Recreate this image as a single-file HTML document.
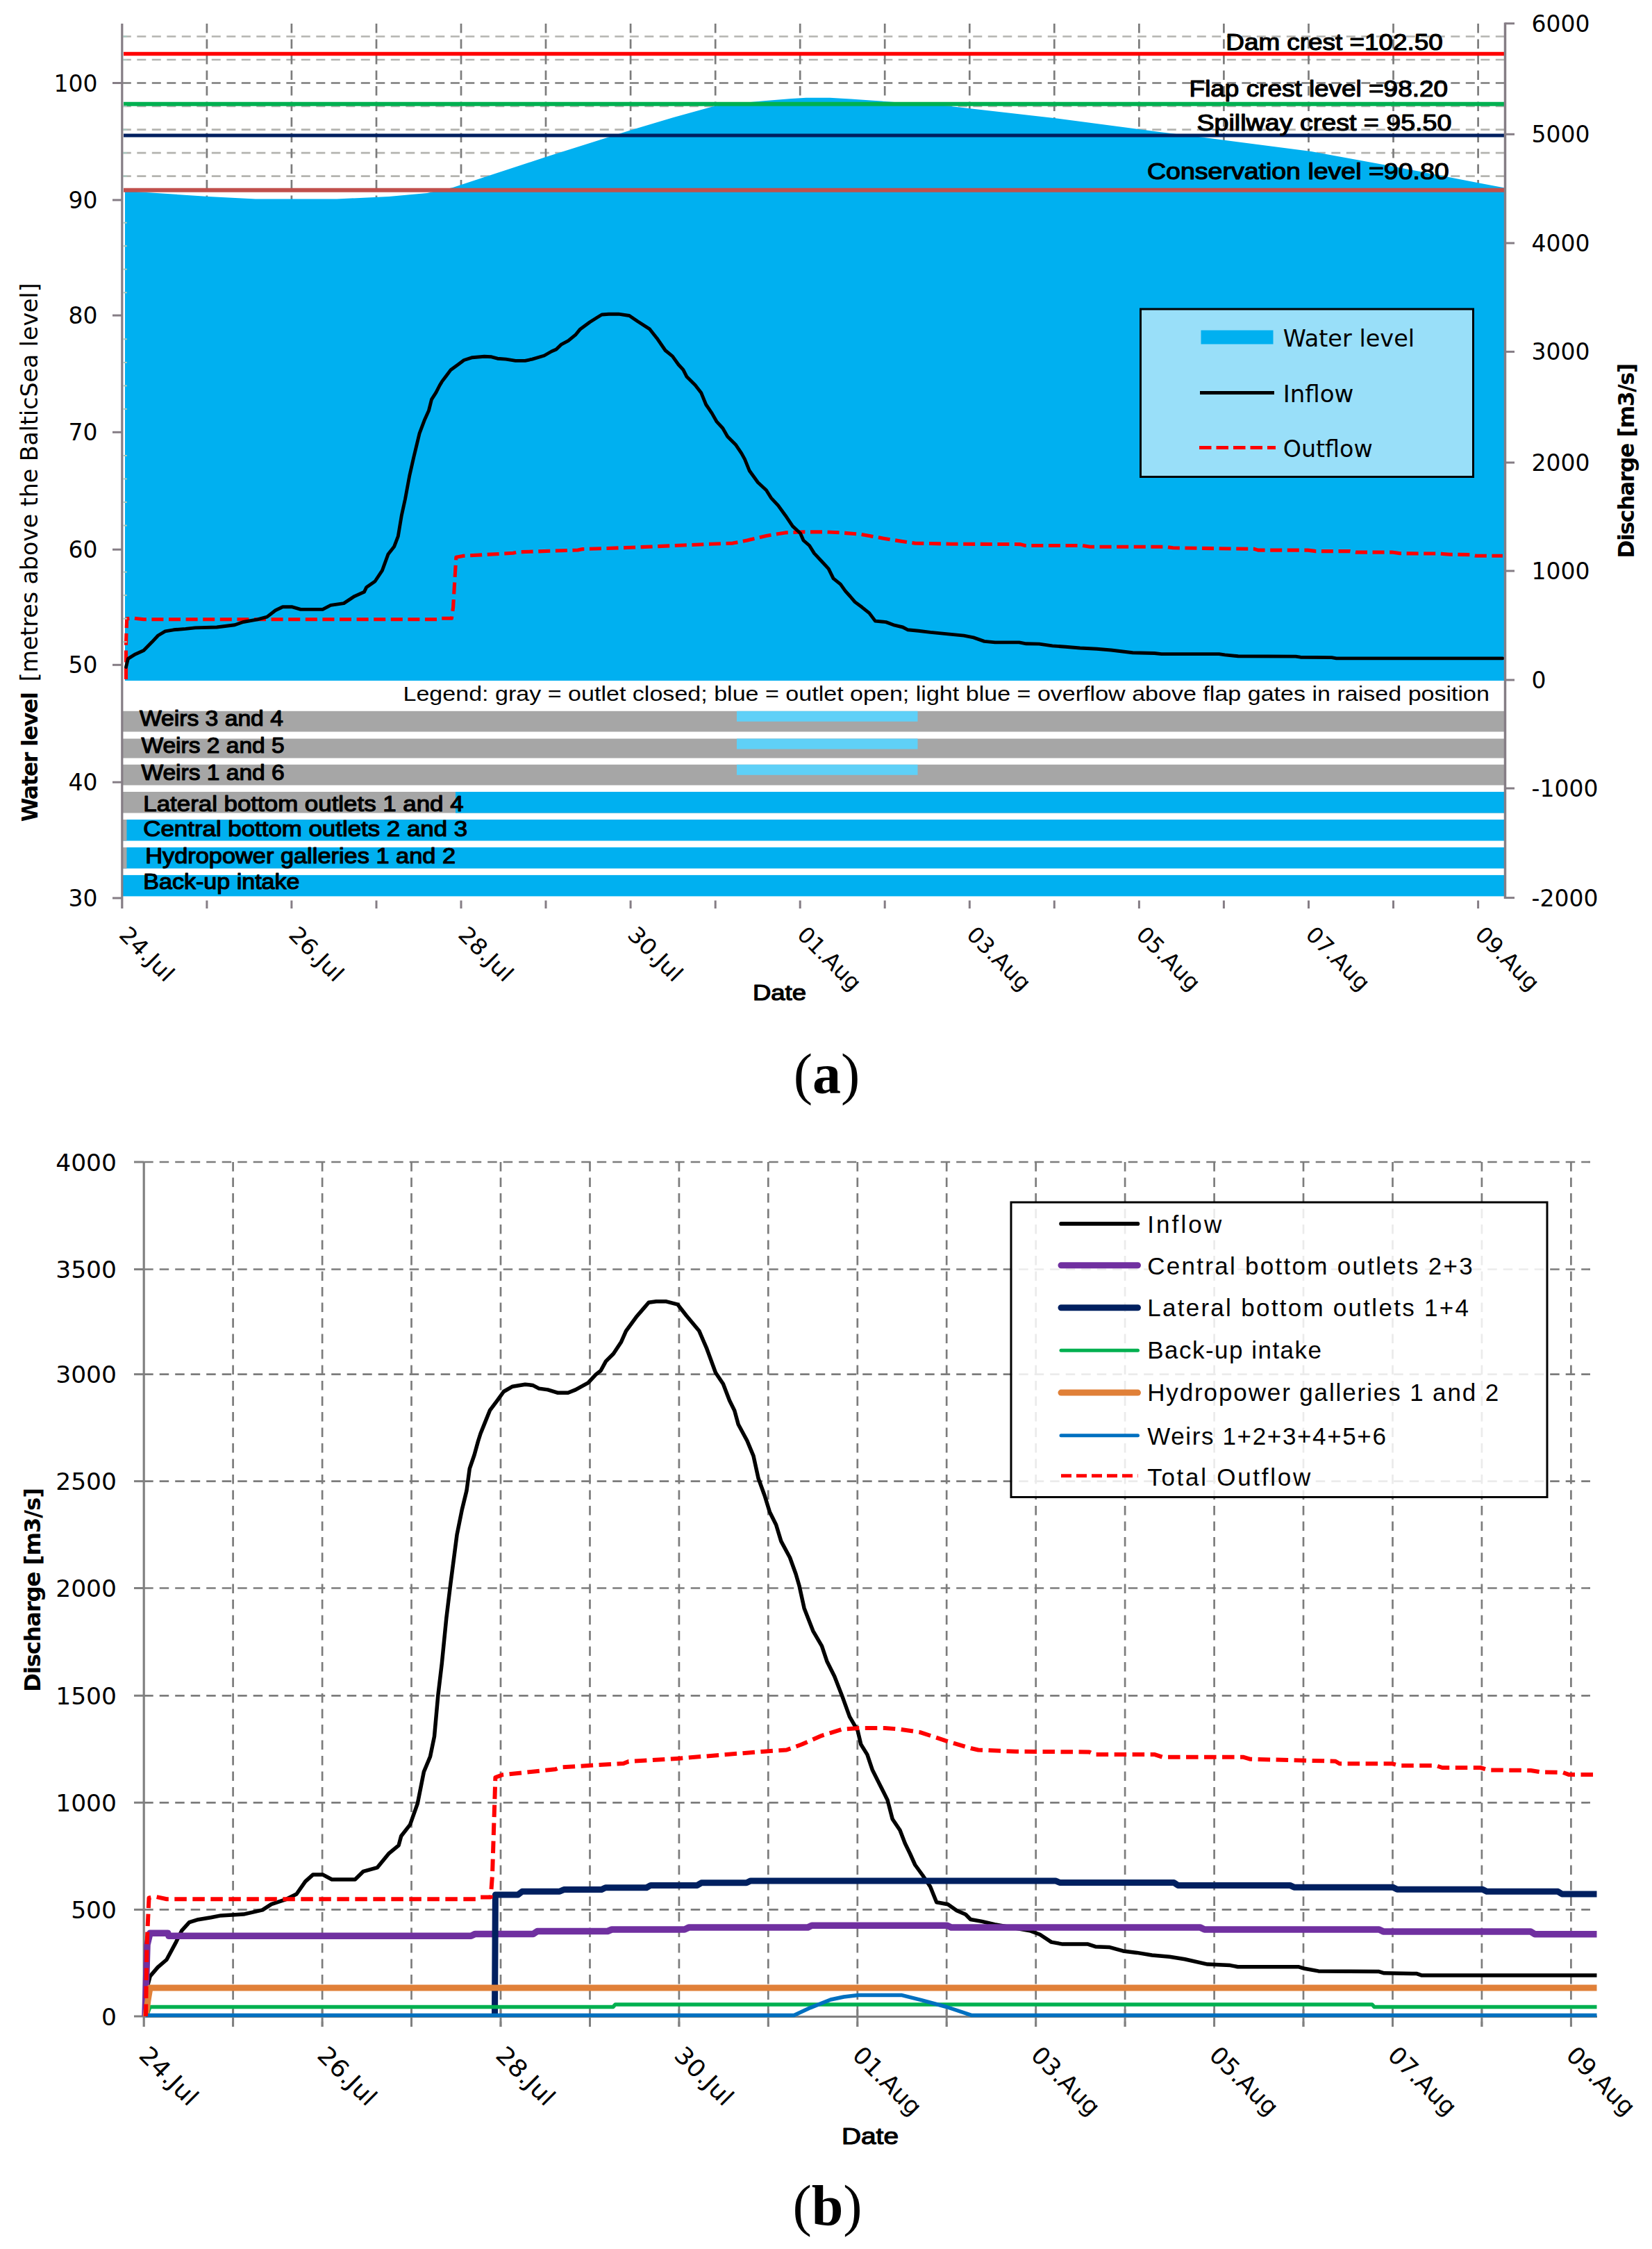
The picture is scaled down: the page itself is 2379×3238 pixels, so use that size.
<!DOCTYPE html>
<html lang="en"><head><meta charset="utf-8"><title>Figure</title>
<style>html,body{margin:0;padding:0;background:#fff}svg{display:block}</style></head>
<body>
<svg width="2379" height="3238" viewBox="0 0 2379 3238">
<rect width="2379" height="3238" fill="#fff"/>
<g id="chartA">
<line x1="175.8" y1="253.6" x2="2167.5" y2="253.6" stroke="#b4b4b0" stroke-width="2.7" stroke-dasharray="13 8.5"/>
<line x1="175.8" y1="220.1" x2="2167.5" y2="220.1" stroke="#b4b4b0" stroke-width="2.7" stroke-dasharray="13 8.5"/>
<line x1="175.8" y1="186.6" x2="2167.5" y2="186.6" stroke="#b4b4b0" stroke-width="2.7" stroke-dasharray="13 8.5"/>
<line x1="175.8" y1="153.0" x2="2167.5" y2="153.0" stroke="#b4b4b0" stroke-width="2.7" stroke-dasharray="13 8.5"/>
<line x1="175.8" y1="119.5" x2="2167.5" y2="119.5" stroke="#7c7c7c" stroke-width="2.7" stroke-dasharray="13 8.5"/>
<line x1="175.8" y1="86.0" x2="2167.5" y2="86.0" stroke="#b4b4b0" stroke-width="2.7" stroke-dasharray="13 8.5"/>
<line x1="175.8" y1="52.5" x2="2167.5" y2="52.5" stroke="#b4b4b0" stroke-width="2.7" stroke-dasharray="13 8.5"/>
<line x1="297.9" y1="34" x2="297.9" y2="300" stroke="#7c7c7c" stroke-width="2.7" stroke-dasharray="13.5 9"/>
<line x1="419.9" y1="34" x2="419.9" y2="300" stroke="#7c7c7c" stroke-width="2.7" stroke-dasharray="13.5 9"/>
<line x1="542.0" y1="34" x2="542.0" y2="300" stroke="#7c7c7c" stroke-width="2.7" stroke-dasharray="13.5 9"/>
<line x1="664.0" y1="34" x2="664.0" y2="300" stroke="#7c7c7c" stroke-width="2.7" stroke-dasharray="13.5 9"/>
<line x1="786.0" y1="34" x2="786.0" y2="300" stroke="#7c7c7c" stroke-width="2.7" stroke-dasharray="13.5 9"/>
<line x1="908.1" y1="34" x2="908.1" y2="300" stroke="#7c7c7c" stroke-width="2.7" stroke-dasharray="13.5 9"/>
<line x1="1030.2" y1="34" x2="1030.2" y2="300" stroke="#7c7c7c" stroke-width="2.7" stroke-dasharray="13.5 9"/>
<line x1="1152.2" y1="34" x2="1152.2" y2="300" stroke="#7c7c7c" stroke-width="2.7" stroke-dasharray="13.5 9"/>
<line x1="1274.2" y1="34" x2="1274.2" y2="300" stroke="#7c7c7c" stroke-width="2.7" stroke-dasharray="13.5 9"/>
<line x1="1396.3" y1="34" x2="1396.3" y2="300" stroke="#7c7c7c" stroke-width="2.7" stroke-dasharray="13.5 9"/>
<line x1="1518.3" y1="34" x2="1518.3" y2="300" stroke="#7c7c7c" stroke-width="2.7" stroke-dasharray="13.5 9"/>
<line x1="1640.4" y1="34" x2="1640.4" y2="300" stroke="#7c7c7c" stroke-width="2.7" stroke-dasharray="13.5 9"/>
<line x1="1762.4" y1="34" x2="1762.4" y2="300" stroke="#7c7c7c" stroke-width="2.7" stroke-dasharray="13.5 9"/>
<line x1="1884.5" y1="34" x2="1884.5" y2="300" stroke="#7c7c7c" stroke-width="2.7" stroke-dasharray="13.5 9"/>
<line x1="2006.5" y1="34" x2="2006.5" y2="300" stroke="#7c7c7c" stroke-width="2.7" stroke-dasharray="13.5 9"/>
<line x1="2128.6" y1="34" x2="2128.6" y2="300" stroke="#7c7c7c" stroke-width="2.7" stroke-dasharray="13.5 9"/>
<polygon points="180.0,980.0 180.0,275.0 226.0,278.0 300.0,283.0 368.0,286.5 485.0,286.5 560.0,283.0 615.0,278.0 652.0,270.0 786.0,226.0 908.0,187.5 970.0,169.0 1030.0,152.5 1070.0,148.0 1103.0,145.0 1140.0,142.0 1161.0,140.7 1195.0,140.7 1225.0,142.5 1261.0,145.0 1310.0,148.5 1362.0,152.3 1520.0,170.2 1670.0,190.0 1734.0,198.0 1888.0,218.0 2007.0,239.8 2130.0,263.4 2167.0,270.6 2167.0,980.0" fill="#00b0f0"/>
<line x1="178" y1="77.6" x2="2167.5" y2="77.6" stroke="#ff0000" stroke-width="5.5"/>
<line x1="178" y1="149.7" x2="2167.5" y2="149.7" stroke="#00b050" stroke-width="6"/>
<line x1="178" y1="195.0" x2="2167.5" y2="195.0" stroke="#002060" stroke-width="5"/>
<line x1="178" y1="273.7" x2="2167.5" y2="273.7" stroke="#c0504d" stroke-width="6"/>
<rect x="176" y="1023.8" width="1991.5" height="29.7" fill="#a6a6a6"/>
<rect x="176" y="1063.5" width="1991.5" height="28.0" fill="#a6a6a6"/>
<rect x="176" y="1100.8" width="1991.5" height="29.7" fill="#a6a6a6"/>
<rect x="176" y="1140" width="1991.5" height="30.5" fill="#a6a6a6"/>
<rect x="176" y="1180" width="1991.5" height="30.5" fill="#00b0f0"/>
<rect x="176" y="1220" width="1991.5" height="30.4" fill="#00b0f0"/>
<rect x="176" y="1259.9" width="1991.5" height="30.5" fill="#00b0f0"/>
<rect x="1061" y="1023.8" width="260.5" height="15" fill="#5fd0f7"/>
<rect x="1061" y="1063.5" width="260.5" height="15" fill="#5fd0f7"/>
<rect x="1061" y="1100.8" width="260.5" height="15" fill="#5fd0f7"/>
<rect x="656" y="1140" width="1511.5" height="30.5" fill="#00b0f0"/>
<rect x="176" y="1180" width="6.5" height="30.5" fill="#a6a6a6"/>
<rect x="176" y="1220" width="6.5" height="30.4" fill="#a6a6a6"/>
<polyline points="181.5,978.0 181.5,925.4 182.7,890.9 191.4,889.9 207.0,891.8 629.8,891.8 632.6,890.3 650.4,890.3 652.6,874.3 656.8,802.3 666.5,800.4 739.0,796.3 745.8,794.8 832.1,792.0 839.0,790.6 908.1,788.3 970.1,785.6 1024.1,783.2 1055.2,782.1 1075.9,778.0 1103.5,771.5 1131.1,766.9 1157.1,765.9 1189.8,765.9 1210.4,766.9 1238.1,769.1 1272.6,775.2 1307.2,780.8 1317.5,782.1 1369.2,783.2 1469.4,783.6 1476.2,785.5 1559.1,785.5 1569.4,787.3 1679.7,787.3 1689.2,788.8 1806.3,790.4 1811.8,792.1 1883.5,792.1 1894.5,793.6 1944.1,793.6 1952.3,795.1 2004.7,795.1 2015.6,796.8 2073.5,797.1 2087.3,798.3 2117.6,798.6 2125.8,800.3 2163.9,800.3" fill="none" stroke="#ff0000" stroke-width="5.1" stroke-dasharray="17 7.6" stroke-linejoin="round"/>
<polyline points="181.5,960.4 184.4,948.4 194.8,941.9 206.9,936.4 218.9,924.3 227.6,915.0 237.9,908.9 250.0,906.8 267.3,905.4 281.1,903.9 312.2,903.0 338.1,899.8 350.2,895.5 370.9,891.8 384.6,888.1 396.7,878.8 407.1,873.8 420.9,873.8 433.0,877.4 464.7,877.4 476.2,871.4 495.1,868.6 510.6,858.4 524.4,852.3 527.8,845.4 540.0,837.0 550.4,821.3 558.9,798.1 567.6,787.0 573.3,772.1 578.3,742.1 583.5,718.5 589.7,685.1 595.6,659.1 604.1,623.9 611.1,605.3 617.4,591.3 621.5,575.1 627.9,565.2 633.1,555.0 636.4,549.4 642.2,541.7 649.2,532.4 659.5,525.0 668.2,518.5 680.2,514.7 697.4,513.3 707.8,513.8 716.4,516.2 728.5,517.1 742.4,519.4 756.2,519.4 766.5,517.1 783.7,512.0 794.1,506.0 801.0,503.0 808.0,496.2 818.3,490.6 828.7,482.2 835.5,473.9 849.4,463.7 859.7,457.2 866.6,453.0 876.8,452.2 890.7,452.2 906.3,454.5 918.4,462.8 935.7,473.9 946.0,486.9 958.1,504.5 968.4,512.9 977.1,525.0 983.9,532.4 989.1,542.6 1001.2,554.6 1009.9,565.8 1016.7,582.5 1025.3,595.1 1032.2,607.2 1040.8,616.5 1047.7,628.5 1059.7,640.6 1067.8,652.6 1072.5,661.1 1079.3,677.8 1091.4,694.5 1103.5,705.7 1110.4,716.8 1120.7,727.9 1131.1,742.2 1141.5,757.6 1152.5,767.8 1157.0,778.0 1165.6,785.5 1172.5,796.6 1182.9,807.7 1193.2,818.8 1200.1,832.9 1210.4,841.1 1217.3,850.8 1224.2,858.5 1231.1,866.6 1241.4,874.3 1251.8,882.6 1260.4,894.1 1275.9,895.6 1288.1,900.2 1300.1,903.0 1307.0,906.7 1322.6,908.2 1339.9,910.4 1388.1,915.1 1401.9,917.9 1417.5,923.4 1433.0,924.9 1467.6,924.9 1477.8,926.8 1496.5,927.1 1515.5,929.9 1534.6,931.2 1555.3,933.0 1579.4,934.2 1600.1,936.0 1631.2,939.7 1662.3,940.5 1672.6,941.6 1755.5,941.6 1764.0,942.9 1783.0,944.7 1865.9,945.1 1872.8,946.2 1917.7,946.6 1924.5,947.9 2163.9,947.9" fill="none" stroke="#000" stroke-width="4.9" stroke-linejoin="round" stroke-linecap="round"/>
<line x1="175.8" y1="34" x2="175.8" y2="1308" stroke="#857d85" stroke-width="3.2"/>
<line x1="2167.5" y1="32.5" x2="2167.5" y2="1294" stroke="#857d85" stroke-width="3.5"/>
<line x1="162" y1="1293.0" x2="175.8" y2="1293.0" stroke="#857d85" stroke-width="3"/>
<text x="140.5" y="1305.0" font-family='"DejaVu Sans", "Liberation Sans", sans-serif' font-size="33" font-weight="normal" text-anchor="end" fill="#000" >30</text>
<line x1="162" y1="1126.2" x2="175.8" y2="1126.2" stroke="#857d85" stroke-width="3"/>
<text x="140.5" y="1138.2" font-family='"DejaVu Sans", "Liberation Sans", sans-serif' font-size="33" font-weight="normal" text-anchor="end" fill="#000" >40</text>
<line x1="162" y1="957.3" x2="175.8" y2="957.3" stroke="#857d85" stroke-width="3"/>
<text x="140.5" y="969.3" font-family='"DejaVu Sans", "Liberation Sans", sans-serif' font-size="33" font-weight="normal" text-anchor="end" fill="#000" >50</text>
<line x1="162" y1="791.2" x2="175.8" y2="791.2" stroke="#857d85" stroke-width="3"/>
<text x="140.5" y="803.2" font-family='"DejaVu Sans", "Liberation Sans", sans-serif' font-size="33" font-weight="normal" text-anchor="end" fill="#000" >60</text>
<line x1="162" y1="622.3" x2="175.8" y2="622.3" stroke="#857d85" stroke-width="3"/>
<text x="140.5" y="634.3" font-family='"DejaVu Sans", "Liberation Sans", sans-serif' font-size="33" font-weight="normal" text-anchor="end" fill="#000" >70</text>
<line x1="162" y1="454.1" x2="175.8" y2="454.1" stroke="#857d85" stroke-width="3"/>
<text x="140.5" y="466.1" font-family='"DejaVu Sans", "Liberation Sans", sans-serif' font-size="33" font-weight="normal" text-anchor="end" fill="#000" >80</text>
<line x1="162" y1="288.0" x2="175.8" y2="288.0" stroke="#857d85" stroke-width="3"/>
<text x="140.5" y="300.0" font-family='"DejaVu Sans", "Liberation Sans", sans-serif' font-size="33" font-weight="normal" text-anchor="end" fill="#000" >90</text>
<line x1="162" y1="119.5" x2="175.8" y2="119.5" stroke="#857d85" stroke-width="3"/>
<text x="140.5" y="131.5" font-family='"DejaVu Sans", "Liberation Sans", sans-serif' font-size="33" font-weight="normal" text-anchor="end" fill="#000" >100</text>
<line x1="177.3" y1="924.2" x2="182.8" y2="924.2" stroke="#a9c9c0" stroke-width="2"/>
<line x1="177.3" y1="890.7" x2="182.8" y2="890.7" stroke="#a9c9c0" stroke-width="2"/>
<line x1="177.3" y1="857.1" x2="182.8" y2="857.1" stroke="#a9c9c0" stroke-width="2"/>
<line x1="177.3" y1="823.6" x2="182.8" y2="823.6" stroke="#a9c9c0" stroke-width="2"/>
<line x1="177.3" y1="756.6" x2="182.8" y2="756.6" stroke="#a9c9c0" stroke-width="2"/>
<line x1="177.3" y1="723.0" x2="182.8" y2="723.0" stroke="#a9c9c0" stroke-width="2"/>
<line x1="177.3" y1="689.5" x2="182.8" y2="689.5" stroke="#a9c9c0" stroke-width="2"/>
<line x1="177.3" y1="656.0" x2="182.8" y2="656.0" stroke="#a9c9c0" stroke-width="2"/>
<line x1="177.3" y1="588.9" x2="182.8" y2="588.9" stroke="#a9c9c0" stroke-width="2"/>
<line x1="177.3" y1="555.4" x2="182.8" y2="555.4" stroke="#a9c9c0" stroke-width="2"/>
<line x1="177.3" y1="521.9" x2="182.8" y2="521.9" stroke="#a9c9c0" stroke-width="2"/>
<line x1="177.3" y1="488.3" x2="182.8" y2="488.3" stroke="#a9c9c0" stroke-width="2"/>
<line x1="177.3" y1="421.3" x2="182.8" y2="421.3" stroke="#a9c9c0" stroke-width="2"/>
<line x1="177.3" y1="387.7" x2="182.8" y2="387.7" stroke="#a9c9c0" stroke-width="2"/>
<line x1="177.3" y1="354.2" x2="182.8" y2="354.2" stroke="#a9c9c0" stroke-width="2"/>
<line x1="177.3" y1="320.7" x2="182.8" y2="320.7" stroke="#a9c9c0" stroke-width="2"/>
<line x1="177.3" y1="253.6" x2="182.8" y2="253.6" stroke="#a9c9c0" stroke-width="2"/>
<line x1="177.3" y1="220.1" x2="182.8" y2="220.1" stroke="#a9c9c0" stroke-width="2"/>
<line x1="177.3" y1="186.6" x2="182.8" y2="186.6" stroke="#a9c9c0" stroke-width="2"/>
<line x1="177.3" y1="153.0" x2="182.8" y2="153.0" stroke="#a9c9c0" stroke-width="2"/>
<line x1="177.3" y1="86.0" x2="182.8" y2="86.0" stroke="#a9c9c0" stroke-width="2"/>
<line x1="177.3" y1="52.5" x2="182.8" y2="52.5" stroke="#a9c9c0" stroke-width="2"/>
<line x1="2167.5" y1="1292.6" x2="2181" y2="1292.6" stroke="#857d85" stroke-width="3"/>
<text x="2205.5" y="1304.6" font-family='"DejaVu Sans", "Liberation Sans", sans-serif' font-size="33" font-weight="normal" text-anchor="start" fill="#000" >-2000</text>
<line x1="2167.5" y1="1135.0" x2="2181" y2="1135.0" stroke="#857d85" stroke-width="3"/>
<text x="2205.5" y="1147.0" font-family='"DejaVu Sans", "Liberation Sans", sans-serif' font-size="33" font-weight="normal" text-anchor="start" fill="#000" >-1000</text>
<line x1="2167.5" y1="979.0" x2="2181" y2="979.0" stroke="#857d85" stroke-width="3"/>
<text x="2205.5" y="991.0" font-family='"DejaVu Sans", "Liberation Sans", sans-serif' font-size="33" font-weight="normal" text-anchor="start" fill="#000" >0</text>
<line x1="2167.5" y1="822.0" x2="2181" y2="822.0" stroke="#857d85" stroke-width="3"/>
<text x="2205.5" y="834.0" font-family='"DejaVu Sans", "Liberation Sans", sans-serif' font-size="33" font-weight="normal" text-anchor="start" fill="#000" >1000</text>
<line x1="2167.5" y1="666.0" x2="2181" y2="666.0" stroke="#857d85" stroke-width="3"/>
<text x="2205.5" y="678.0" font-family='"DejaVu Sans", "Liberation Sans", sans-serif' font-size="33" font-weight="normal" text-anchor="start" fill="#000" >2000</text>
<line x1="2167.5" y1="506.4" x2="2181" y2="506.4" stroke="#857d85" stroke-width="3"/>
<text x="2205.5" y="518.4" font-family='"DejaVu Sans", "Liberation Sans", sans-serif' font-size="33" font-weight="normal" text-anchor="start" fill="#000" >3000</text>
<line x1="2167.5" y1="350.0" x2="2181" y2="350.0" stroke="#857d85" stroke-width="3"/>
<text x="2205.5" y="362.0" font-family='"DejaVu Sans", "Liberation Sans", sans-serif' font-size="33" font-weight="normal" text-anchor="start" fill="#000" >4000</text>
<line x1="2167.5" y1="193.3" x2="2181" y2="193.3" stroke="#857d85" stroke-width="3"/>
<text x="2205.5" y="205.3" font-family='"DejaVu Sans", "Liberation Sans", sans-serif' font-size="33" font-weight="normal" text-anchor="start" fill="#000" >5000</text>
<line x1="2167.5" y1="33.8" x2="2181" y2="33.8" stroke="#857d85" stroke-width="3"/>
<text x="2205.5" y="45.8" font-family='"DejaVu Sans", "Liberation Sans", sans-serif' font-size="33" font-weight="normal" text-anchor="start" fill="#000" >6000</text>
<line x1="297.9" y1="1296.5" x2="297.9" y2="1308" stroke="#857d85" stroke-width="3"/>
<line x1="419.9" y1="1296.5" x2="419.9" y2="1308" stroke="#857d85" stroke-width="3"/>
<line x1="542.0" y1="1296.5" x2="542.0" y2="1308" stroke="#857d85" stroke-width="3"/>
<line x1="664.0" y1="1296.5" x2="664.0" y2="1308" stroke="#857d85" stroke-width="3"/>
<line x1="786.0" y1="1296.5" x2="786.0" y2="1308" stroke="#857d85" stroke-width="3"/>
<line x1="908.1" y1="1296.5" x2="908.1" y2="1308" stroke="#857d85" stroke-width="3"/>
<line x1="1030.2" y1="1296.5" x2="1030.2" y2="1308" stroke="#857d85" stroke-width="3"/>
<line x1="1152.2" y1="1296.5" x2="1152.2" y2="1308" stroke="#857d85" stroke-width="3"/>
<line x1="1274.2" y1="1296.5" x2="1274.2" y2="1308" stroke="#857d85" stroke-width="3"/>
<line x1="1396.3" y1="1296.5" x2="1396.3" y2="1308" stroke="#857d85" stroke-width="3"/>
<line x1="1518.3" y1="1296.5" x2="1518.3" y2="1308" stroke="#857d85" stroke-width="3"/>
<line x1="1640.4" y1="1296.5" x2="1640.4" y2="1308" stroke="#857d85" stroke-width="3"/>
<line x1="1762.4" y1="1296.5" x2="1762.4" y2="1308" stroke="#857d85" stroke-width="3"/>
<line x1="1884.5" y1="1296.5" x2="1884.5" y2="1308" stroke="#857d85" stroke-width="3"/>
<line x1="2006.5" y1="1296.5" x2="2006.5" y2="1308" stroke="#857d85" stroke-width="3"/>
<line x1="2128.6" y1="1296.5" x2="2128.6" y2="1308" stroke="#857d85" stroke-width="3"/>
<text transform="translate(169.8,1347.5) rotate(45)" font-family='"DejaVu Sans", "Liberation Sans", sans-serif' font-size="32" fill="#000" textLength="96" lengthAdjust="spacingAndGlyphs">24.Jul</text>
<text transform="translate(413.9,1347.5) rotate(45)" font-family='"DejaVu Sans", "Liberation Sans", sans-serif' font-size="32" fill="#000" textLength="96" lengthAdjust="spacingAndGlyphs">26.Jul</text>
<text transform="translate(658.0,1347.5) rotate(45)" font-family='"DejaVu Sans", "Liberation Sans", sans-serif' font-size="32" fill="#000" textLength="96" lengthAdjust="spacingAndGlyphs">28.Jul</text>
<text transform="translate(902.1,1347.5) rotate(45)" font-family='"DejaVu Sans", "Liberation Sans", sans-serif' font-size="32" fill="#000" textLength="96" lengthAdjust="spacingAndGlyphs">30.Jul</text>
<text transform="translate(1146.2,1347.5) rotate(45)" font-family='"DejaVu Sans", "Liberation Sans", sans-serif' font-size="32" fill="#000" textLength="114.4" lengthAdjust="spacingAndGlyphs">01.Aug</text>
<text transform="translate(1390.3,1347.5) rotate(45)" font-family='"DejaVu Sans", "Liberation Sans", sans-serif' font-size="32" fill="#000" textLength="114.4" lengthAdjust="spacingAndGlyphs">03.Aug</text>
<text transform="translate(1634.4,1347.5) rotate(45)" font-family='"DejaVu Sans", "Liberation Sans", sans-serif' font-size="32" fill="#000" textLength="114.4" lengthAdjust="spacingAndGlyphs">05.Aug</text>
<text transform="translate(1878.5,1347.5) rotate(45)" font-family='"DejaVu Sans", "Liberation Sans", sans-serif' font-size="32" fill="#000" textLength="114.4" lengthAdjust="spacingAndGlyphs">07.Aug</text>
<text transform="translate(2122.6,1347.5) rotate(45)" font-family='"DejaVu Sans", "Liberation Sans", sans-serif' font-size="32" fill="#000" textLength="114.4" lengthAdjust="spacingAndGlyphs">09.Aug</text>
<text x="1765.3" y="71.6" font-family='"Liberation Sans", sans-serif' font-size="32.5" font-weight="normal" text-anchor="start" fill="#000" textLength="312.4" lengthAdjust="spacingAndGlyphs"  stroke="#000" stroke-width="1.2" stroke-linejoin="round">Dam crest =102.50</text>
<text x="1712.6" y="138.8" font-family='"Liberation Sans", sans-serif' font-size="32.5" font-weight="normal" text-anchor="start" fill="#000" textLength="372.4" lengthAdjust="spacingAndGlyphs"  stroke="#000" stroke-width="1.2" stroke-linejoin="round">Flap crest level =98.20</text>
<text x="1723.5" y="187.8" font-family='"Liberation Sans", sans-serif' font-size="32.5" font-weight="normal" text-anchor="start" fill="#000" textLength="366.9" lengthAdjust="spacingAndGlyphs"  stroke="#000" stroke-width="1.2" stroke-linejoin="round">Spillway crest = 95.50</text>
<text x="1652.0" y="258.0" font-family='"Liberation Sans", sans-serif' font-size="32.5" font-weight="normal" text-anchor="start" fill="#000" textLength="434.7" lengthAdjust="spacingAndGlyphs"  stroke="#000" stroke-width="1.2" stroke-linejoin="round">Conservation level =90.80</text>
<text x="200.9" y="1044.5" font-family='"Liberation Sans", sans-serif' font-size="31.5" font-weight="normal" text-anchor="start" fill="#000" textLength="207.0" lengthAdjust="spacingAndGlyphs"  stroke="#000" stroke-width="1.2" stroke-linejoin="round">Weirs 3 and 4</text>
<text x="203.4" y="1083.7" font-family='"Liberation Sans", sans-serif' font-size="31.5" font-weight="normal" text-anchor="start" fill="#000" textLength="206.3" lengthAdjust="spacingAndGlyphs"  stroke="#000" stroke-width="1.2" stroke-linejoin="round">Weirs 2 and 5</text>
<text x="203.4" y="1123.3" font-family='"Liberation Sans", sans-serif' font-size="31.5" font-weight="normal" text-anchor="start" fill="#000" textLength="206.3" lengthAdjust="spacingAndGlyphs"  stroke="#000" stroke-width="1.2" stroke-linejoin="round">Weirs 1 and 6</text>
<text x="206.3" y="1168.0" font-family='"Liberation Sans", sans-serif' font-size="31.5" font-weight="normal" text-anchor="start" fill="#000" textLength="461.3" lengthAdjust="spacingAndGlyphs"  stroke="#000" stroke-width="1.2" stroke-linejoin="round">Lateral bottom outlets 1 and 4</text>
<text x="206.3" y="1203.6" font-family='"Liberation Sans", sans-serif' font-size="31.5" font-weight="normal" text-anchor="start" fill="#000" textLength="466.8" lengthAdjust="spacingAndGlyphs"  stroke="#000" stroke-width="1.2" stroke-linejoin="round">Central bottom outlets 2 and 3</text>
<text x="209.2" y="1243.2" font-family='"Liberation Sans", sans-serif' font-size="31.5" font-weight="normal" text-anchor="start" fill="#000" textLength="446.8" lengthAdjust="spacingAndGlyphs"  stroke="#000" stroke-width="1.2" stroke-linejoin="round">Hydropower galleries 1 and 2</text>
<text x="206.3" y="1279.5" font-family='"Liberation Sans", sans-serif' font-size="31.5" font-weight="normal" text-anchor="start" fill="#000" textLength="225.2" lengthAdjust="spacingAndGlyphs"  stroke="#000" stroke-width="1.2" stroke-linejoin="round">Back-up intake</text>
<text x="580.5" y="1009.2" font-family='"Liberation Sans", sans-serif' font-size="30" font-weight="normal" text-anchor="start" fill="#000" textLength="1564.5" lengthAdjust="spacingAndGlyphs" >Legend: gray = outlet closed; blue = outlet open; light blue = overflow above flap gates in raised position</text>
<rect x="1642.5" y="445" width="479" height="241.5" fill="#99dff9" stroke="#000" stroke-width="3"/>
<rect x="1729.5" y="475.5" width="104" height="20" fill="#00b0f0"/>
<line x1="1728" y1="565.4" x2="1835" y2="565.4" stroke="#000" stroke-width="5"/>
<line x1="1727" y1="644.5" x2="1837" y2="644.5" stroke="#ff0000" stroke-width="5" stroke-dasharray="17.5 7"/>
<text x="1847.7" y="499.3" font-family='"DejaVu Sans", "Liberation Sans", sans-serif' font-size="33" font-weight="normal" text-anchor="start" fill="#000" textLength="189.4" lengthAdjust="spacingAndGlyphs" >Water level</text>
<text x="1847.7" y="578.5" font-family='"DejaVu Sans", "Liberation Sans", sans-serif' font-size="33" font-weight="normal" text-anchor="start" fill="#000" textLength="101.7" lengthAdjust="spacingAndGlyphs" >Inflow</text>
<text x="1847.7" y="657.6" font-family='"DejaVu Sans", "Liberation Sans", sans-serif' font-size="33" font-weight="normal" text-anchor="start" fill="#000" textLength="129.0" lengthAdjust="spacingAndGlyphs" >Outflow</text>
<g transform="translate(53.9,1183.3) rotate(-90)"><text font-family='"DejaVu Sans", "Liberation Sans", sans-serif' font-size="33" fill="#000"><tspan font-weight="bold" font-size="31.5" textLength="187" lengthAdjust="spacing">Water level</tspan></text><text x="202" font-family='"DejaVu Sans", "Liberation Sans", sans-serif' font-size="33" textLength="574" lengthAdjust="spacingAndGlyphs">[metres above the BalticSea level]</text></g>
<g transform="translate(2352.7,803.8) rotate(-90)"><text font-family='"DejaVu Sans", "Liberation Sans", sans-serif' font-size="31.5" font-weight="bold" textLength="281" lengthAdjust="spacing">Discharge [m3/s]</text></g>
<text x="1084.0" y="1440.0" font-family='"Liberation Sans", sans-serif' font-size="31.5" font-weight="normal" text-anchor="start" fill="#000" textLength="77.0" lengthAdjust="spacingAndGlyphs"  stroke="#000" stroke-width="1.2" stroke-linejoin="round">Date</text>
</g>
<text x="1190.6" y="1573.7" text-anchor="middle" font-family='"Liberation Serif", "DejaVu Serif", serif' font-size="82">(<tspan font-weight="bold">a</tspan>)</text>
<g id="chartB">
<line x1="207.2" y1="2749.4" x2="2290" y2="2749.4" stroke="#7c7c7c" stroke-width="2.7" stroke-dasharray="13.5 9"/>
<line x1="207.2" y1="2595.3" x2="2290" y2="2595.3" stroke="#7c7c7c" stroke-width="2.7" stroke-dasharray="13.5 9"/>
<line x1="207.2" y1="2441.3" x2="2290" y2="2441.3" stroke="#7c7c7c" stroke-width="2.7" stroke-dasharray="13.5 9"/>
<line x1="207.2" y1="2286.5" x2="2290" y2="2286.5" stroke="#7c7c7c" stroke-width="2.7" stroke-dasharray="13.5 9"/>
<line x1="207.2" y1="2132.6" x2="2290" y2="2132.6" stroke="#7c7c7c" stroke-width="2.7" stroke-dasharray="13.5 9"/>
<line x1="207.2" y1="1978.6" x2="2290" y2="1978.6" stroke="#7c7c7c" stroke-width="2.7" stroke-dasharray="13.5 9"/>
<line x1="207.2" y1="1827.5" x2="2290" y2="1827.5" stroke="#7c7c7c" stroke-width="2.7" stroke-dasharray="13.5 9"/>
<line x1="207.2" y1="1673.0" x2="2290" y2="1673.0" stroke="#7c7c7c" stroke-width="2.7" stroke-dasharray="13.5 9"/>
<line x1="335.6" y1="1673" x2="335.6" y2="2918" stroke="#7c7c7c" stroke-width="2.7" stroke-dasharray="13.5 9"/>
<line x1="464.1" y1="1673" x2="464.1" y2="2918" stroke="#7c7c7c" stroke-width="2.7" stroke-dasharray="13.5 9"/>
<line x1="592.5" y1="1673" x2="592.5" y2="2918" stroke="#7c7c7c" stroke-width="2.7" stroke-dasharray="13.5 9"/>
<line x1="721.0" y1="1673" x2="721.0" y2="2918" stroke="#7c7c7c" stroke-width="2.7" stroke-dasharray="13.5 9"/>
<line x1="849.5" y1="1673" x2="849.5" y2="2918" stroke="#7c7c7c" stroke-width="2.7" stroke-dasharray="13.5 9"/>
<line x1="977.9" y1="1673" x2="977.9" y2="2918" stroke="#7c7c7c" stroke-width="2.7" stroke-dasharray="13.5 9"/>
<line x1="1106.3" y1="1673" x2="1106.3" y2="2918" stroke="#7c7c7c" stroke-width="2.7" stroke-dasharray="13.5 9"/>
<line x1="1234.8" y1="1673" x2="1234.8" y2="2918" stroke="#7c7c7c" stroke-width="2.7" stroke-dasharray="13.5 9"/>
<line x1="1363.2" y1="1673" x2="1363.2" y2="2918" stroke="#7c7c7c" stroke-width="2.7" stroke-dasharray="13.5 9"/>
<line x1="1491.7" y1="1673" x2="1491.7" y2="2918" stroke="#7c7c7c" stroke-width="2.7" stroke-dasharray="13.5 9"/>
<line x1="1620.1" y1="1673" x2="1620.1" y2="2918" stroke="#7c7c7c" stroke-width="2.7" stroke-dasharray="13.5 9"/>
<line x1="1748.6" y1="1673" x2="1748.6" y2="2918" stroke="#7c7c7c" stroke-width="2.7" stroke-dasharray="13.5 9"/>
<line x1="1877.0" y1="1673" x2="1877.0" y2="2918" stroke="#7c7c7c" stroke-width="2.7" stroke-dasharray="13.5 9"/>
<line x1="2005.5" y1="1673" x2="2005.5" y2="2918" stroke="#7c7c7c" stroke-width="2.7" stroke-dasharray="13.5 9"/>
<line x1="2133.9" y1="1673" x2="2133.9" y2="2918" stroke="#7c7c7c" stroke-width="2.7" stroke-dasharray="13.5 9"/>
<line x1="2262.4" y1="1673" x2="2262.4" y2="2918" stroke="#7c7c7c" stroke-width="2.7" stroke-dasharray="13.5 9"/>
<line x1="207.2" y1="1673" x2="207.2" y2="2918" stroke="#808080" stroke-width="3.2"/>
<line x1="207.2" y1="2903.5" x2="2300" y2="2903.5" stroke="#808080" stroke-width="3"/>
<line x1="335.6" y1="2893" x2="335.6" y2="2918" stroke="#808080" stroke-width="3"/>
<line x1="464.1" y1="2893" x2="464.1" y2="2918" stroke="#808080" stroke-width="3"/>
<line x1="592.5" y1="2893" x2="592.5" y2="2918" stroke="#808080" stroke-width="3"/>
<line x1="721.0" y1="2893" x2="721.0" y2="2918" stroke="#808080" stroke-width="3"/>
<line x1="849.5" y1="2893" x2="849.5" y2="2918" stroke="#808080" stroke-width="3"/>
<line x1="977.9" y1="2893" x2="977.9" y2="2918" stroke="#808080" stroke-width="3"/>
<line x1="1106.3" y1="2893" x2="1106.3" y2="2918" stroke="#808080" stroke-width="3"/>
<line x1="1234.8" y1="2893" x2="1234.8" y2="2918" stroke="#808080" stroke-width="3"/>
<line x1="1363.2" y1="2893" x2="1363.2" y2="2918" stroke="#808080" stroke-width="3"/>
<line x1="1491.7" y1="2893" x2="1491.7" y2="2918" stroke="#808080" stroke-width="3"/>
<line x1="1620.1" y1="2893" x2="1620.1" y2="2918" stroke="#808080" stroke-width="3"/>
<line x1="1748.6" y1="2893" x2="1748.6" y2="2918" stroke="#808080" stroke-width="3"/>
<line x1="1877.0" y1="2893" x2="1877.0" y2="2918" stroke="#808080" stroke-width="3"/>
<line x1="2005.5" y1="2893" x2="2005.5" y2="2918" stroke="#808080" stroke-width="3"/>
<line x1="2133.9" y1="2893" x2="2133.9" y2="2918" stroke="#808080" stroke-width="3"/>
<line x1="2262.4" y1="2893" x2="2262.4" y2="2918" stroke="#808080" stroke-width="3"/>
<line x1="193" y1="2903.0" x2="207.2" y2="2903.0" stroke="#808080" stroke-width="3"/>
<text x="168.0" y="2915.6" font-family='"DejaVu Sans", "Liberation Sans", sans-serif' font-size="34.5" font-weight="normal" text-anchor="end" fill="#000" >0</text>
<line x1="193" y1="2749.4" x2="207.2" y2="2749.4" stroke="#808080" stroke-width="3"/>
<text x="168.0" y="2762.0" font-family='"DejaVu Sans", "Liberation Sans", sans-serif' font-size="34.5" font-weight="normal" text-anchor="end" fill="#000" >500</text>
<line x1="193" y1="2595.3" x2="207.2" y2="2595.3" stroke="#808080" stroke-width="3"/>
<text x="168.0" y="2607.9" font-family='"DejaVu Sans", "Liberation Sans", sans-serif' font-size="34.5" font-weight="normal" text-anchor="end" fill="#000" >1000</text>
<line x1="193" y1="2441.3" x2="207.2" y2="2441.3" stroke="#808080" stroke-width="3"/>
<text x="168.0" y="2453.9" font-family='"DejaVu Sans", "Liberation Sans", sans-serif' font-size="34.5" font-weight="normal" text-anchor="end" fill="#000" >1500</text>
<line x1="193" y1="2286.5" x2="207.2" y2="2286.5" stroke="#808080" stroke-width="3"/>
<text x="168.0" y="2299.1" font-family='"DejaVu Sans", "Liberation Sans", sans-serif' font-size="34.5" font-weight="normal" text-anchor="end" fill="#000" >2000</text>
<line x1="193" y1="2132.6" x2="207.2" y2="2132.6" stroke="#808080" stroke-width="3"/>
<text x="168.0" y="2145.2" font-family='"DejaVu Sans", "Liberation Sans", sans-serif' font-size="34.5" font-weight="normal" text-anchor="end" fill="#000" >2500</text>
<line x1="193" y1="1978.6" x2="207.2" y2="1978.6" stroke="#808080" stroke-width="3"/>
<text x="168.0" y="1991.2" font-family='"DejaVu Sans", "Liberation Sans", sans-serif' font-size="34.5" font-weight="normal" text-anchor="end" fill="#000" >3000</text>
<line x1="193" y1="1827.5" x2="207.2" y2="1827.5" stroke="#808080" stroke-width="3"/>
<text x="168.0" y="1840.1" font-family='"DejaVu Sans", "Liberation Sans", sans-serif' font-size="34.5" font-weight="normal" text-anchor="end" fill="#000" >3500</text>
<line x1="193" y1="1673.0" x2="207.2" y2="1673.0" stroke="#808080" stroke-width="3"/>
<text x="168.0" y="1685.6" font-family='"DejaVu Sans", "Liberation Sans", sans-serif' font-size="34.5" font-weight="normal" text-anchor="end" fill="#000" >4000</text>
<polyline points="210.0,2868.5 216.3,2845.1 227.2,2832.4 239.9,2821.5 252.6,2797.9 261.7,2779.7 272.6,2767.7 285.3,2763.7 303.5,2760.8 318.0,2757.9 350.7,2756.1 378.0,2749.9 390.7,2741.6 412.5,2734.3 427.0,2727.0 439.7,2708.9 450.6,2699.1 465.1,2699.1 477.9,2706.0 511.3,2706.0 523.3,2694.3 543.2,2688.9 559.6,2668.9 574.1,2656.9 577.7,2643.5 590.5,2627.1 601.4,2596.3 610.4,2550.9 619.5,2529.1 625.5,2500.0 630.8,2441.2 636.3,2395.0 642.8,2329.7 649.0,2278.8 658.0,2209.8 665.3,2173.5 672.0,2146.0 676.3,2114.3 683.0,2095.0 688.5,2075.0 692.0,2064.0 698.1,2048.9 705.4,2030.7 716.3,2016.2 725.4,2003.5 738.1,1996.2 756.2,1993.3 767.1,1994.4 776.2,1999.1 788.9,2000.9 803.5,2005.3 818.0,2005.3 828.9,2000.9 847.0,1990.8 857.9,1979.1 865.2,1973.3 872.5,1959.9 883.4,1949.0 894.3,1932.6 901.5,1916.3 916.1,1896.3 927.0,1883.6 934.2,1875.3 945.0,1873.8 959.6,1873.8 976.0,1878.2 988.7,1894.5 1006.9,1916.3 1017.8,1941.7 1030.5,1976.2 1041.4,1992.6 1050.5,2016.2 1057.7,2030.7 1063.2,2050.7 1075.9,2074.3 1085.0,2096.1 1092.2,2128.8 1101.2,2153.5 1108.5,2177.1 1117.6,2195.3 1124.8,2218.9 1137.5,2242.5 1146.0,2266.0 1150.9,2282.7 1158.1,2315.4 1170.8,2348.1 1183.5,2369.9 1190.8,2391.7 1201.7,2413.5 1212.6,2441.4 1223.5,2471.6 1235.1,2491.6 1239.8,2511.5 1248.9,2526.1 1256.2,2547.9 1267.1,2569.7 1278.0,2591.4 1285.2,2619.0 1296.0,2635.0 1303.3,2654.0 1310.6,2669.0 1317.8,2685.0 1328.7,2700.0 1339.6,2716.2 1348.7,2738.8 1365.0,2741.7 1377.8,2750.7 1390.5,2756.2 1397.7,2763.5 1414.1,2766.4 1432.3,2770.7 1483.1,2779.8 1497.6,2785.3 1514.0,2796.1 1530.3,2799.1 1566.7,2799.1 1577.5,2802.7 1597.2,2803.4 1617.2,2808.9 1637.2,2811.4 1659.0,2815.0 1684.4,2817.2 1706.2,2820.8 1738.9,2828.1 1771.6,2829.6 1782.5,2831.7 1869.7,2831.7 1878.7,2834.3 1898.7,2837.9 1985.9,2838.6 1993.2,2840.8 2040.4,2841.6 2047.6,2844.1 2299.5,2844.1" fill="none" stroke="#000" stroke-width="5.5" stroke-linejoin="round"/>
<polyline points="209.0,2903.0 212.0,2800.0 216.0,2783.3 241.7,2783.3 243.0,2787.3 678.3,2787.3 684.3,2784.4 767.8,2784.4 773.8,2780.5 875.0,2780.5 881.0,2778.0 985.8,2778.0 991.8,2775.1 1163.0,2775.1 1169.0,2772.2 1364.0,2772.2 1370.0,2775.1 1728.6,2775.1 1734.6,2778.0 1986.0,2778.0 1992.0,2780.9 2204.3,2780.9 2210.3,2784.7 2299.5,2784.7" fill="none" stroke="#7030a0" stroke-width="9.5" stroke-linejoin="round"/>
<polyline points="712.5,2903.0 713.4,2727.9 713.4,2727.9 746.0,2727.9 752.0,2723.2 806.0,2723.2 812.0,2720.6 866.0,2720.6 872.0,2717.7 931.0,2717.7 937.0,2714.4 1004.0,2714.4 1010.0,2710.8 1075.0,2710.8 1081.0,2707.9 1520.0,2707.9 1526.0,2710.4 1690.5,2710.4 1696.5,2714.4 1857.6,2714.4 1863.6,2717.2 2006.0,2717.2 2012.0,2720.2 2135.0,2720.2 2141.0,2723.3 2243.5,2723.3 2249.5,2727.0 2299.5,2727.0" fill="none" stroke="#002060" stroke-width="9" stroke-linejoin="round"/>
<polyline points="211.0,2903.0 216.0,2889.4 883.0,2889.4 886.0,2886.0 1976.0,2886.0 1979.0,2889.4 2299.5,2889.4" fill="none" stroke="#00b050" stroke-width="5.5" stroke-linejoin="round"/>
<polyline points="210.0,2903.0 213.0,2880.0 216.0,2862.0 2299.5,2862.0" fill="none" stroke="#e08038" stroke-width="9" stroke-linejoin="round"/>
<polyline points="210.0,2901.6 1143.5,2901.6 1167.1,2890.6 1196.1,2879.0 1215.0,2875.0 1236.1,2872.4 1297.9,2872.4 1326.9,2879.7 1363.2,2889.5 1399.6,2901.6 2299.5,2901.6" fill="none" stroke="#0070c0" stroke-width="5.5" stroke-linejoin="round"/>
<polyline points="210.0,2903.0 211.5,2800.0 214.5,2732.5 223.6,2730.6 240.0,2734.3 685.0,2734.3 688.0,2731.4 706.7,2731.4 709.0,2700.0 713.4,2559.0 723.6,2555.3 799.9,2547.3 807.1,2544.4 897.9,2539.0 905.2,2536.1 977.9,2531.7 1043.2,2526.3 1100.0,2521.7 1132.7,2519.5 1154.5,2511.5 1183.5,2498.8 1212.6,2489.7 1240.0,2487.9 1274.4,2487.9 1296.1,2489.7 1325.2,2494.1 1361.5,2506.1 1397.9,2517.0 1408.8,2519.5 1463.2,2521.7 1568.6,2522.4 1575.8,2526.1 1663.0,2526.1 1673.9,2529.7 1790.0,2529.7 1800.0,2532.7 1923.2,2535.7 1929.0,2539.2 2004.4,2539.2 2016.0,2542.1 2068.2,2542.1 2076.9,2545.0 2132.0,2545.0 2143.5,2548.4 2204.4,2549.0 2218.9,2551.3 2250.8,2551.9 2259.5,2555.1 2299.5,2555.1" fill="none" stroke="#ff0000" stroke-width="6" stroke-dasharray="17.5 8.5" stroke-linejoin="round"/>
<text transform="translate(198.2,2961.0) rotate(45)" font-family='"DejaVu Sans", "Liberation Sans", sans-serif' font-size="34.5" fill="#000" textLength="103.4" lengthAdjust="spacingAndGlyphs">24.Jul</text>
<text transform="translate(455.1,2961.0) rotate(45)" font-family='"DejaVu Sans", "Liberation Sans", sans-serif' font-size="34.5" fill="#000" textLength="103.4" lengthAdjust="spacingAndGlyphs">26.Jul</text>
<text transform="translate(712.0,2961.0) rotate(45)" font-family='"DejaVu Sans", "Liberation Sans", sans-serif' font-size="34.5" fill="#000" textLength="103.4" lengthAdjust="spacingAndGlyphs">28.Jul</text>
<text transform="translate(968.9,2961.0) rotate(45)" font-family='"DejaVu Sans", "Liberation Sans", sans-serif' font-size="34.5" fill="#000" textLength="103.4" lengthAdjust="spacingAndGlyphs">30.Jul</text>
<text transform="translate(1225.8,2961.0) rotate(45)" font-family='"DejaVu Sans", "Liberation Sans", sans-serif' font-size="34.5" fill="#000" textLength="123.4" lengthAdjust="spacingAndGlyphs">01.Aug</text>
<text transform="translate(1482.7,2961.0) rotate(45)" font-family='"DejaVu Sans", "Liberation Sans", sans-serif' font-size="34.5" fill="#000" textLength="123.4" lengthAdjust="spacingAndGlyphs">03.Aug</text>
<text transform="translate(1739.6,2961.0) rotate(45)" font-family='"DejaVu Sans", "Liberation Sans", sans-serif' font-size="34.5" fill="#000" textLength="123.4" lengthAdjust="spacingAndGlyphs">05.Aug</text>
<text transform="translate(1996.5,2961.0) rotate(45)" font-family='"DejaVu Sans", "Liberation Sans", sans-serif' font-size="34.5" fill="#000" textLength="123.4" lengthAdjust="spacingAndGlyphs">07.Aug</text>
<text transform="translate(2253.4,2961.0) rotate(45)" font-family='"DejaVu Sans", "Liberation Sans", sans-serif' font-size="34.5" fill="#000" textLength="123.4" lengthAdjust="spacingAndGlyphs">09.Aug</text>
<rect x="1456" y="1731" width="772" height="424.5" fill="#fff" fill-opacity="0.85" stroke="#000" stroke-width="3"/>
<line x1="1528" y1="1761.9" x2="1638.5" y2="1761.9" stroke="#000" stroke-width="5.6" stroke-linecap="round"/>
<text x="1652.2" y="1774.7" font-family='"Liberation Sans", sans-serif' font-size="35" fill="#000" textLength="107" lengthAdjust="spacing">Inflow</text>
<line x1="1528" y1="1821.7" x2="1638.5" y2="1821.7" stroke="#7030a0" stroke-width="9" stroke-linecap="round"/>
<text x="1652.2" y="1834.5" font-family='"Liberation Sans", sans-serif' font-size="35" fill="#000" textLength="468.5" lengthAdjust="spacing">Central bottom outlets 2+3</text>
<line x1="1528" y1="1882.7" x2="1638.5" y2="1882.7" stroke="#002060" stroke-width="9" stroke-linecap="round"/>
<text x="1652.2" y="1895.4" font-family='"Liberation Sans", sans-serif' font-size="35" fill="#000" textLength="462.7" lengthAdjust="spacing">Lateral bottom outlets 1+4</text>
<line x1="1528" y1="1944.2" x2="1638.5" y2="1944.2" stroke="#00b050" stroke-width="5" stroke-linecap="round"/>
<text x="1652.2" y="1956.4" font-family='"Liberation Sans", sans-serif' font-size="35" fill="#000" textLength="250.8" lengthAdjust="spacing">Back-up intake</text>
<line x1="1528" y1="2005.1" x2="1638.5" y2="2005.1" stroke="#e08038" stroke-width="9" stroke-linecap="round"/>
<text x="1652.2" y="2017.3" font-family='"Liberation Sans", sans-serif' font-size="35" fill="#000" textLength="506" lengthAdjust="spacing">Hydropower galleries 1 and 2</text>
<line x1="1528" y1="2066.7" x2="1638.5" y2="2066.7" stroke="#0070c0" stroke-width="5" stroke-linecap="round"/>
<text x="1652.2" y="2079.5" font-family='"Liberation Sans", sans-serif' font-size="35" fill="#000" textLength="343.7" lengthAdjust="spacing">Weirs 1+2+3+4+5+6</text>
<line x1="1528" y1="2124.7" x2="1638.5" y2="2124.7" stroke="#ff0000" stroke-width="5" stroke-linecap="butt" stroke-dasharray="15 7"/>
<text x="1652.2" y="2139.2" font-family='"Liberation Sans", sans-serif' font-size="35" fill="#000" textLength="235" lengthAdjust="spacing">Total Outflow</text>
<g transform="translate(58,2436) rotate(-90)"><text font-family='"DejaVu Sans", "Liberation Sans", sans-serif' font-size="32.5" font-weight="bold" textLength="294" lengthAdjust="spacing">Discharge [m3/s]</text></g>
<text x="1212.0" y="3087.0" font-family='"Liberation Sans", sans-serif' font-size="34" font-weight="normal" text-anchor="start" fill="#000" textLength="82.0" lengthAdjust="spacingAndGlyphs"  stroke="#000" stroke-width="1.2" stroke-linejoin="round">Date</text>
</g>
<text x="1191.5" y="3203.2" text-anchor="middle" font-family='"Liberation Serif", "DejaVu Serif", serif' font-size="82">(<tspan font-weight="bold">b</tspan>)</text>
</svg>
</body></html>
